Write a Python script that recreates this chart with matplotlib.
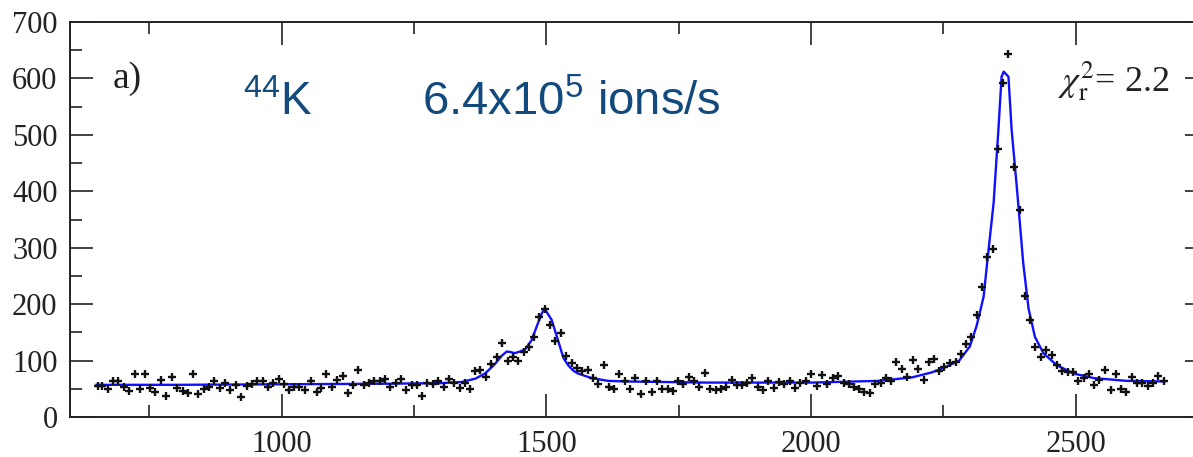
import numpy as np
import matplotlib
matplotlib.use("Agg")
import matplotlib.pyplot as plt
from matplotlib.ticker import MultipleLocator

# measured counts (channel, counts)
chan = [652, 660, 672, 681, 691, 702, 711, 722, 733, 742, 752, 761, 772, 782, 793,
        803, 813, 822, 832, 842, 853, 862, 873, 883, 893, 903, 913, 923, 934, 943,
        953, 964, 974, 984, 994, 1004, 1013, 1023, 1033, 1044, 1055, 1066, 1075, 1084,
        1095, 1105, 1115, 1125, 1135, 1144, 1155, 1165, 1175, 1185, 1195, 1205, 1215,
        1225, 1235, 1246, 1256, 1265, 1275, 1285, 1295, 1306, 1316, 1326, 1336, 1346,
        1356, 1366, 1375, 1386, 1396, 1406, 1416, 1427, 1437, 1447, 1457, 1467, 1477,
        1486, 1497, 1507, 1517, 1527, 1537, 1548, 1557, 1568, 1578, 1588, 1598, 1608,
        1618, 1628, 1638, 1648, 1658, 1668, 1678, 1689, 1699, 1709, 1719, 1729, 1739,
        1748, 1758, 1769, 1779, 1789, 1800, 1810, 1820, 1830, 1840, 1850, 1860, 1870,
        1879, 1889, 1899, 1910, 1919, 1930, 1940, 1949, 1960, 1970, 1980, 1990, 2000,
        2011, 2021, 2031, 2041, 2051, 2062, 2071, 2081, 2091, 2101, 2111, 2121, 2132,
        2142, 2152, 2161, 2172, 2182, 2192, 2202, 2213, 2222, 2232, 2242, 2252, 2263,
        2273, 2283, 2293, 2303, 2313, 2323, 2333, 2343, 2354, 2363, 2373, 2384, 2394,
        2404, 2414, 2424, 2434, 2444, 2455, 2465, 2475, 2485, 2495, 2505, 2515, 2525,
        2535, 2545, 2556, 2566, 2576, 2586, 2596, 2606, 2616, 2626, 2636, 2646, 2656,
        2666]
counts = [55, 55, 49, 64, 63, 54, 46, 76, 49, 77, 51, 45, 66, 38, 71,
          52, 46, 42, 77, 41, 49, 54, 63, 51, 61, 48, 57, 36, 55, 58,
          64, 64, 53, 60, 67, 58, 48, 53, 53, 47, 64, 45, 51, 76,
          54, 66, 73, 43, 57, 83, 57, 60, 63, 64, 67, 54, 61,
          67, 47, 57, 57, 37, 61, 58, 63, 53, 67, 61, 51, 60,
          50, 82, 84, 71, 94, 106, 132, 99, 106, 100, 116, 124, 142,
          177, 191, 163, 135, 148, 108, 95, 86, 82, 83, 69, 58, 92,
          54, 49, 76, 63, 50, 70, 41, 63, 45, 63, 50, 50, 46,
          63, 58, 71, 63, 54, 78, 49, 47, 50, 53, 66, 57, 57,
          61, 70, 54, 48, 64, 52, 62, 59, 64, 52, 60, 63, 76,
          55, 74, 59, 69, 73, 60, 59, 54, 49, 44, 43, 59, 61,
          69, 63, 98, 85, 71, 101, 85, 66, 97, 103, 82, 89, 95,
          97, 112, 130, 141, 181, 230, 283, 298, 475, 592, 643, 443, 366,
          214, 172, 124, 106, 118, 110, 92, 82, 80, 80, 63, 69, 77,
          57, 66, 83, 47, 76, 49, 45, 71, 60, 60, 55, 60, 73,
          63]

# fitted curve
fit_x = [650, 800, 1000, 1200, 1300, 1340, 1366, 1384, 1403, 1415, 1425, 1433,
         1440, 1450, 1460, 1472, 1484, 1492, 1497, 1504, 1510, 1522, 1532, 1541,
         1551, 1560, 1585, 1617, 1648, 1800, 1880, 2001, 2127, 2190, 2228, 2253,
         2280, 2300, 2313, 2326, 2333, 2345, 2354, 2360, 2364, 2368, 2373, 2379,
         2389, 2401, 2411, 2423, 2439, 2464, 2496, 2534, 2597, 2668]
fit_y = [57, 57, 58, 59, 60, 62, 68, 77, 94, 108, 116, 115,
         113, 116, 120, 136, 166, 185, 191, 181, 172, 136, 105, 92,
         82, 77, 69, 64, 63, 61, 61, 61, 64, 70, 79, 88,
         100, 125, 162, 213, 275, 380, 509, 603, 612, 608, 603, 509,
         405, 272, 192, 142, 113, 92, 77, 69, 64, 63]

xticks = [1000, 1500, 2000, 2500]
yticks = [0, 100, 200, 300, 400, 500, 600, 700]

plt.rcParams['mathtext.fontset'] = 'custom'
plt.rcParams['mathtext.rm'] = 'Liberation Sans'
plt.rcParams['mathtext.it'] = 'Liberation Sans:italic'

fig = plt.figure(figsize=(11.93, 4.57), dpi=100)
ax = fig.add_axes([70/1193, 1 - 417/457, (1208 - 70)/1193, (417 - 22)/457])

ax.plot(fit_x, fit_y, color='#1010ff', lw=1.7, zorder=2)
ax.plot(chan, counts, ls='none', marker='+', ms=5.5, mew=1.7, color='#111111', zorder=3)

ax.set_xlim(600, 2750)
ax.set_ylim(0, 700)
ax.set_xticks(xticks)
ax.set_yticks(yticks)
ax.xaxis.set_minor_locator(MultipleLocator(250))
ax.yaxis.set_minor_locator(MultipleLocator(50))
ax.tick_params(which='both', direction='in', top=True, right=True, width=1.2,
               labelsize=22, pad=9, colors='#222222')
ax.tick_params(which='major', length=16.5)
ax.tick_params(which='minor', length=8.6)
for lab in ax.get_xticklabels() + ax.get_yticklabels():
    lab.set_fontfamily('Liberation Serif')
for s in ax.spines.values():
    s.set_linewidth(1.4)
    s.set_color('#222222')

# annotations
ax.text(113/1193, 1 - 79/457, 'a)', transform=fig.transFigure, fontsize=27,
        family='Liberation Serif', va='center', ha='left', color='#222222')
ax.text(1058/1193, 1 - 91/457, r'$\chi^2_{\mathrm{r}}$= 2.2', transform=fig.transFigure,
        fontsize=26, family='Liberation Serif', math_fontfamily='stix',
        va='baseline', ha='left', color='#222222')

blue = '#124a7e'
fig.text(243/1193, 1 - 115/457, r'$^{44}$K', fontsize=33, family='Liberation Sans',
         color=blue, va='baseline', ha='left')
fig.text(422/1193, 1 - 115/457, r'6.4x10$^{5}$ ions/s', fontsize=34,
         family='Liberation Sans', color=blue, va='baseline', ha='left')

fig.savefig('out.png', dpi=100)
